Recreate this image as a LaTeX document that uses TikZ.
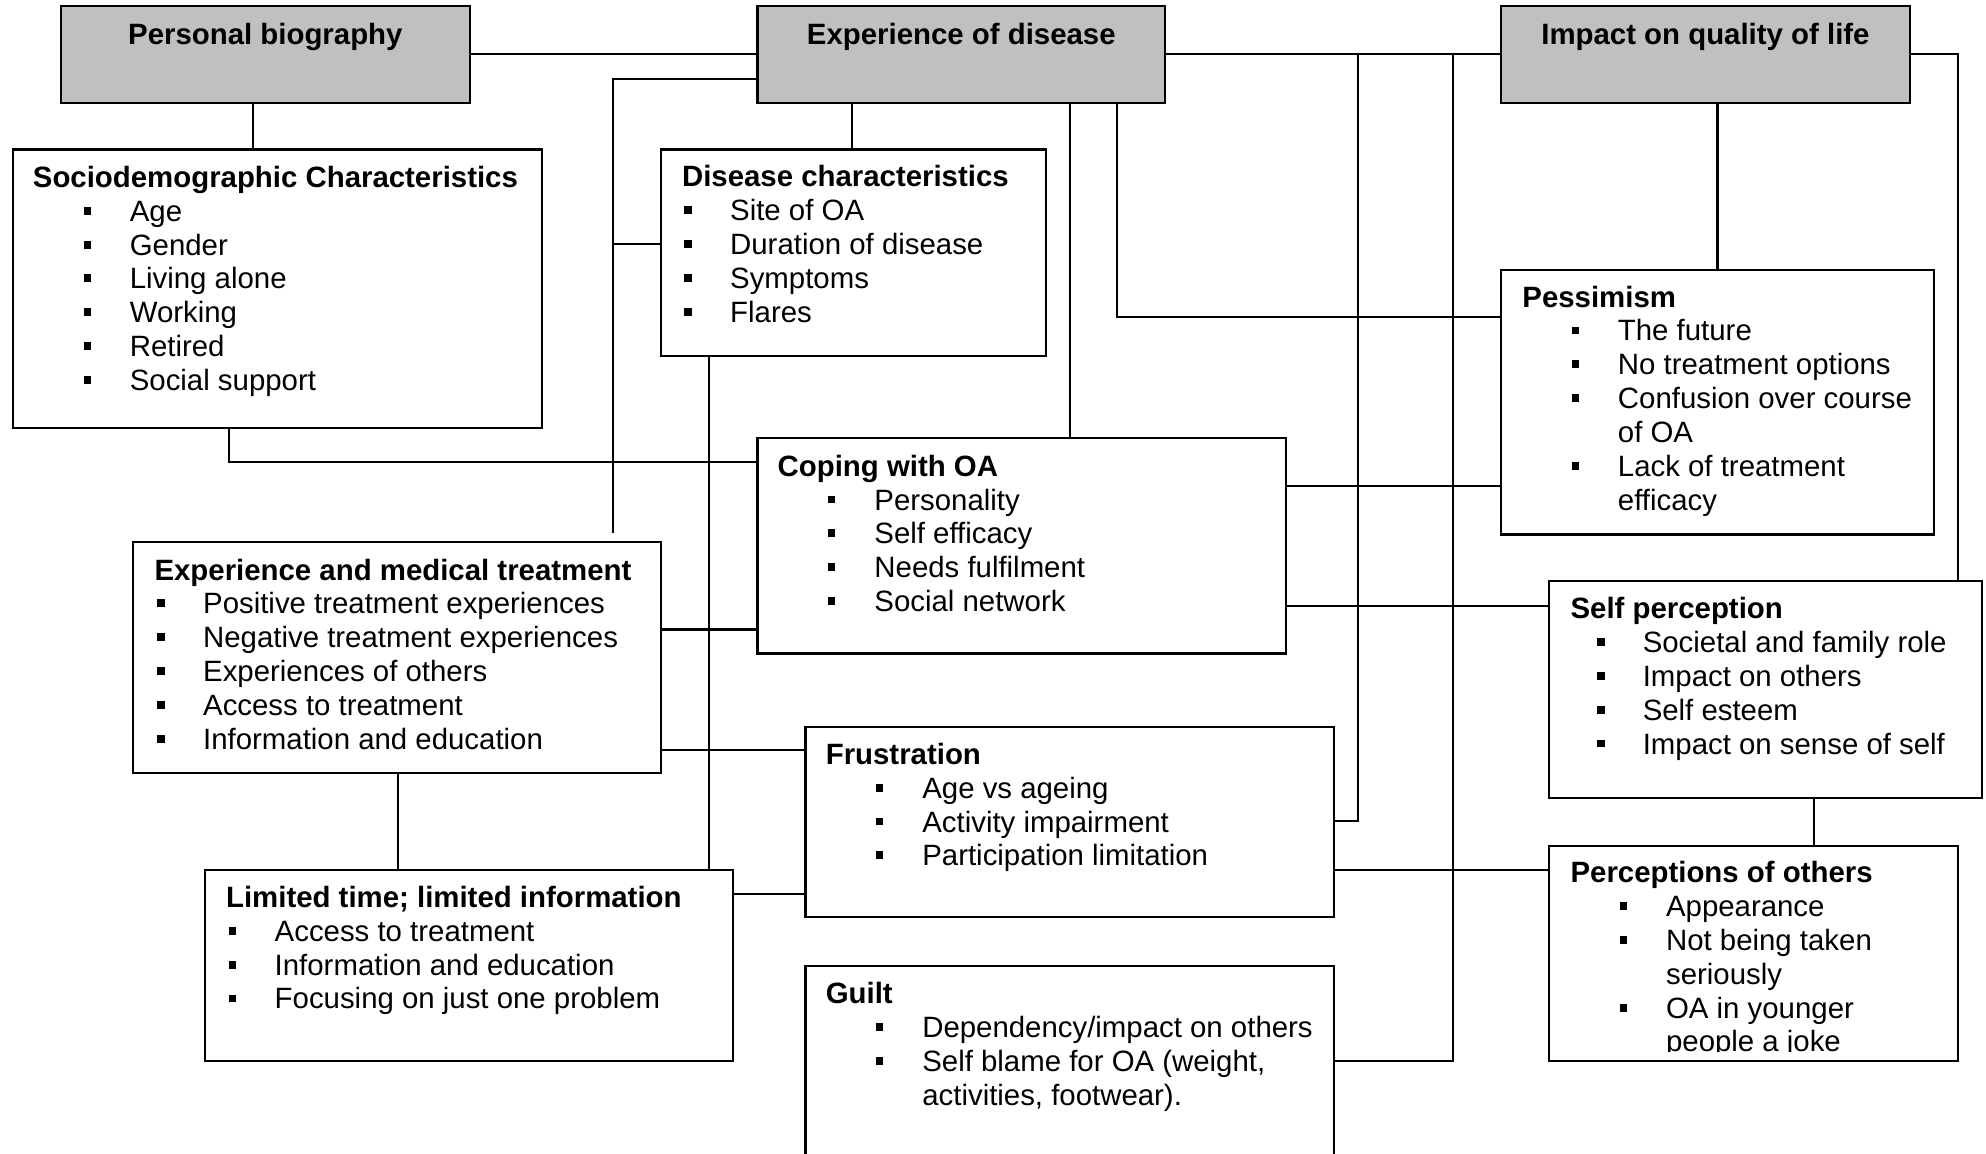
\documentclass[tikz,border=0pt]{standalone}
\usepackage{fontspec}
\setmainfont{Liberation Sans}
\definecolor{headgray}{RGB}{192,192,192}

% bullet item: #1 bullet centre, #2 text start, #3 text
\newcommand\bitem[3]{\hspace*{#1}\makebox[0pt]{\rule[2.6pt]{2.9pt}{3.1pt}}\hspace*{\dimexpr#2-#1\relax}#3\par}
% continuation line of a wrapped item
\newcommand\citem[2]{\hspace*{#1}#2\par}
% box title
\newcommand\btitle[1]{{\bfseries #1}\par}

\tikzset{
  cardframe/.style={draw=black, line width=0.85pt, inner sep=0pt, outer sep=0pt},
  headbox/.style={cardframe, fill=headgray},
  topicbox/.style={cardframe, fill=white},
  boxtext/.style={inner sep=0pt, outer sep=0pt, anchor=base west,
    font=\fontsize{11.6pt}{13.35pt}\selectfont},
  headtext/.style={inner sep=0pt, outer sep=0pt, anchor=base,
    font=\fontsize{11.6pt}{13.35pt}\selectfont\bfseries},
  wire/.style={draw=black, line width=0.8pt},
}

% rectangle node from its corners: name, style, x1, y1, x2, y2
\newcommand\cardat[6]{%
  \node[#2, anchor=north west, minimum width={(#5-#3)*0.5pt},
        minimum height={(#6-#4)*0.5pt}] (#1) at (#3,#4) {};}
% block of text whose first baseline sits at the given point
\newcommand\textat[3]{%
  \node[boxtext] (#1) at (#2) {\parbox[t]{260pt}{\fontsize{11.6pt}{13.35pt}\selectfont
    \setlength\parindent{0pt}\setlength\parskip{0pt}#3}};}

\begin{document}
\begin{tikzpicture}[x=0.5pt, y=-0.5pt]
\clip (0,0) rectangle (1568,911);

% ---------- theme headers ----------
\cardat{pb}{headbox}{48}{5}{371}{81}
\cardat{ed}{headbox}{598}{5}{920}{81}
\cardat{iq}{headbox}{1185}{5}{1508}{81}
\node[headtext] (pb-t) at (209.5,35) {Personal biography};
\node[headtext] (ed-t) at (759,35) {Experience of disease};
\node[headtext] (iq-t) at (1346.5,35) {Impact on quality of life};

% ---------- topic boxes ----------
\cardat{sd}{topicbox}{10}{118}{428}{338}
\cardat{dc}{topicbox}{522}{118}{826}{281}
\cardat{pess}{topicbox}{1185}{213}{1527}{422}
\cardat{coping}{topicbox}{598}{346}{1015}{516}
\cardat{emt}{topicbox}{105}{428}{522}{610}
\cardat{sp}{topicbox}{1223}{459}{1565}{630}
\cardat{frus}{topicbox}{636}{574}{1053}{724}
\cardat{lt}{topicbox}{162}{687}{579}{838}
\cardat{po}{topicbox}{1223}{668}{1546}{838}
\cardat{guilt}{topicbox}{636}{763}{1053}{960}

\textat{sd-t}{26,148}{\btitle{Sociodemographic Characteristics}
  \bitem{21.5pt}{38.25pt}{Age}
  \bitem{21.5pt}{38.25pt}{Gender}
  \bitem{21.5pt}{38.25pt}{Living alone}
  \bitem{21.5pt}{38.25pt}{Working}
  \bitem{21.5pt}{38.25pt}{Retired}
  \bitem{21.5pt}{38.25pt}{Social support}}

\textat{dc-t}{538.5,147.5}{\btitle{Disease characteristics}
  \bitem{2.4pt}{19pt}{Site of OA}
  \bitem{2.4pt}{19pt}{Duration of disease}
  \bitem{2.4pt}{19pt}{Symptoms}
  \bitem{2.4pt}{19pt}{Flares}}

\textat{pess-t}{1202,242.5}{\btitle{Pessimism}
  \bitem{21pt}{37.7pt}{The future}
  \bitem{21pt}{37.7pt}{No treatment options}
  \bitem{21pt}{37.7pt}{Confusion over course}
  \citem{37.7pt}{of OA}
  \bitem{21pt}{37.7pt}{Lack of treatment}
  \citem{37.7pt}{efficacy}}

\textat{coping-t}{614,376}{\btitle{Coping with OA}
  \bitem{21.3pt}{38.2pt}{Personality}
  \bitem{21.3pt}{38.2pt}{Self efficacy}
  \bitem{21.3pt}{38.2pt}{Needs fulfilment}
  \bitem{21.3pt}{38.2pt}{Social network}}

\textat{emt-t}{122,458}{\btitle{Experience and medical treatment}
  \bitem{2.5pt}{19.2pt}{Positive treatment experiences}
  \bitem{2.5pt}{19.2pt}{Negative treatment experiences}
  \bitem{2.5pt}{19.2pt}{Experiences of others}
  \bitem{2.5pt}{19.2pt}{Access to treatment}
  \bitem{2.5pt}{19.2pt}{Information and education}}

\textat{sp-t}{1240,488.5}{\btitle{Self perception}
  \bitem{12pt}{28.5pt}{Societal and family role}
  \bitem{12pt}{28.5pt}{Impact on others}
  \bitem{12pt}{28.5pt}{Self esteem}
  \bitem{12pt}{28.5pt}{Impact on sense of self}}

\textat{frus-t}{652,603.5}{\btitle{Frustration}
  \bitem{21.3pt}{38.1pt}{Age vs ageing}
  \bitem{21.3pt}{38.1pt}{Activity impairment}
  \bitem{21.3pt}{38.1pt}{Participation limitation}}

\textat{lt-t}{178.5,716.5}{\btitle{Limited time; limited information}
  \bitem{2.6pt}{19.2pt}{Access to treatment}
  \bitem{2.6pt}{19.2pt}{Information and education}
  \bitem{2.6pt}{19.2pt}{Focusing on just one problem}}

% the last line of this box is cut by its lower margin
\begin{scope}
  \clip (po.north west) rectangle (po.east |- 0,830);
  \textat{po-t}{1240,697}{\btitle{Perceptions of others}
    \bitem{21pt}{37.7pt}{Appearance}
    \bitem{21pt}{37.7pt}{Not being taken}
    \citem{37.7pt}{seriously}
    \bitem{21pt}{37.7pt}{OA in younger}
    \citem{37.7pt}{people a joke}}
\end{scope}

\textat{guilt-t}{652,792.5}{\btitle{Guilt}
  \bitem{21.3pt}{38.1pt}{Dependency/impact on others}
  \bitem{21.3pt}{38.1pt}{Self blame for OA (weight,}
  \citem{38.1pt}{activities, footwear).}}

% ---------- connectors ----------
\coordinate (emt-stub) at (484,420.5);

\draw[wire] (pb.east) -- (ed.west);
\draw[wire] (ed.east) -- (iq.west);
\draw[wire] (200,0 |- pb.south) -- (200,0 |- sd.north);
\draw[wire] (673,0 |- ed.south) -- (673,0 |- dc.north);
\draw[wire] (1356,0 |- iq.south) -- (1356,0 |- pess.north);

% from Experience of disease down the left side
\draw[wire] (ed.west |- 0,62) -- (484,62) -- (emt-stub);
\draw[wire] (484,193) -- (dc.west |- 0,193);

\draw[wire] (181,0 |- sd.south) -- (181,364.5) -- (coping.west |- 0,364.5);
\draw[wire] (560,0 |- dc.south) -- (560,0 |- lt.north);
\draw[wire] (emt.east |- 0,497) -- (coping.west |- 0,497);
\draw[wire] (emt.east |- 0,592) -- (frus.west |- 0,592);
\draw[wire] (314,0 |- emt.south) -- (314,0 |- lt.north);
\draw[wire] (lt.east |- 0,705.5) -- (frus.west |- 0,705.5);

% from Experience of disease down the middle
\draw[wire] (845,0 |- ed.south) -- (845,0 |- coping.north);
\draw[wire] (882,0 |- ed.south) -- (882,250) -- (pess.west |- 0,250);

\draw[wire] (coping.east |- 0,383.5) -- (pess.west |- 0,383.5);
\draw[wire] (coping.east |- 0,478.5) -- (sp.west |- 0,478.5);

% long drops from the top line
\draw[wire] (1072,0 |- ed.east) -- (1072,648.5) -- (frus.east |- 0,648.5);
\draw[wire] (1147,0 |- ed.east) -- (1147,838) -- (guilt.east |- 0,838);

\draw[wire] (frus.east |- 0,686.5) -- (po.west |- 0,686.5);
\draw[wire] (1432,0 |- sp.south) -- (1432,0 |- po.north);
\draw[wire] (iq.east) -- (1546,0 |- iq.east) -- (1546,0 |- sp.north);

\end{tikzpicture}
\end{document}
